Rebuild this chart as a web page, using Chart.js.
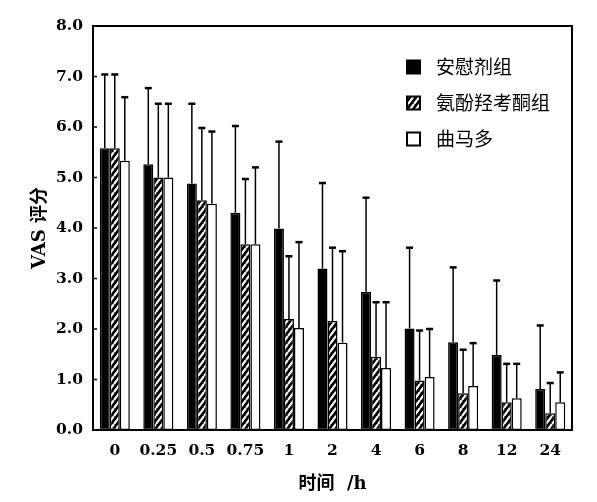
<!DOCTYPE html>
<html>
<head>
<meta charset="utf-8">
<script src="https://cdn.jsdelivr.net/npm/chart.js@4"></script>
<style>
  body { margin: 0; background: #fff; }
  #wrap { width: 597px; height: 502px; }
</style>
</head>
<body>
<div id="wrap"><canvas id="vasChart"></canvas></div>
<script>
// time points (h)
const timeLabels = ['0', '0.25', '0.5', '0.75', '1', '2', '4', '6', '8', '12', '24'];
const groupNames = ['安慰剂组', '氨酚羟考酮组', '曲马多'];

// mean VAS scores
const placeboMean  = [5.58, 5.26, 4.88, 4.30, 3.99, 3.20, 2.74, 2.01, 1.74, 1.49, 0.81];
const oxycodoneMean = [5.58, 5.00, 4.55, 3.68, 2.20, 2.16, 1.45, 0.98, 0.73, 0.55, 0.33];
const tramadolMean = [5.33, 5.00, 4.48, 3.68, 2.02, 1.73, 1.23, 1.05, 0.87, 0.63, 0.55];

// standard deviations (upper error bars only)
const placeboSD   = [1.47, 1.52, 1.59, 1.73, 1.73, 1.70, 1.87, 1.61, 1.49, 1.48, 1.27];
const oxycodoneSD = [1.47, 1.47, 1.44, 1.30, 1.25, 1.46, 1.09, 1.00, 0.87, 0.77, 0.61];
const tramadolSD  = [1.27, 1.47, 1.44, 1.53, 1.71, 1.82, 1.31, 0.96, 0.86, 0.69, 0.60];

const yTicks = [0, 1, 2, 3, 4, 5, 6, 7, 8];

const serif = "'DejaVu Serif', 'Noto Sans CJK SC', serif";

// white diagonal stripes on black for the middle group
function makeHatch() {
    const c = document.createElement('canvas');
    c.width = 6; c.height = 8;
    const g = c.getContext('2d');
    g.fillStyle = '#000';
    g.fillRect(0, 0, 6, 8);
    g.strokeStyle = '#fff';
    g.lineWidth = 2.2;
    g.beginPath();
    g.moveTo(0, 8); g.lineTo(6, 0);
    g.moveTo(-6, 8); g.lineTo(0, 0);
    g.moveTo(6, 8); g.lineTo(12, 0);
    g.stroke();
    return g.createPattern(c, 'repeat');
}
const hatch = makeHatch();

const errorsByDataset = [placeboSD, oxycodoneSD, tramadolSD];

// upward error bars with caps
const errorBars = {
    id: 'errorBars',
    afterDatasetsDraw(chart) {
        const ctx = chart.ctx;
        const y = chart.scales.y;
        ctx.save();
        ctx.strokeStyle = '#000';
        chart.data.datasets.forEach((ds, i) => {
            const meta = chart.getDatasetMeta(i);
            meta.data.forEach((bar, j) => {
                const top = y.getPixelForValue(ds.data[j] + errorsByDataset[i][j]);
                const base = y.getPixelForValue(ds.data[j]);
                ctx.lineWidth = 1.5;
                ctx.beginPath();
                ctx.moveTo(bar.x, base);
                ctx.lineTo(bar.x, top);
                ctx.stroke();
                ctx.lineWidth = 2.5;
                ctx.beginPath();
                ctx.moveTo(bar.x - 3.5, top + 0.5);
                ctx.lineTo(bar.x + 3.5, top + 0.5);
                ctx.stroke();
            });
        });
        ctx.restore();
    }
};

// box around plot area, inward y ticks, legend in upper right
const frameAndLegend = {
    id: 'frameAndLegend',
    afterDraw(chart) {
        const ctx = chart.ctx;
        const a = chart.chartArea;
        const y = chart.scales.y;
        ctx.save();
        ctx.strokeStyle = '#000';
        ctx.lineWidth = 2;
        ctx.strokeRect(a.left, a.top, a.right - a.left, a.bottom - a.top);
        ctx.lineWidth = 1.5;
        yTicks.forEach(v => {
            const py = y.getPixelForValue(v);
            ctx.beginPath();
            ctx.moveTo(a.left, py);
            ctx.lineTo(a.left + 4, py);
            ctx.stroke();
        });

        ctx.font = "19px 'Noto Sans CJK SC'";
        ctx.textBaseline = 'middle';
        chart.data.datasets.forEach((ds, i) => {
            const lx = a.right - 165;
            const ly = a.top + 41 + i * 36;
            ctx.fillStyle = ds.backgroundColor;
            ctx.fillRect(lx, ly - 6.5, 13, 13);
            ctx.lineWidth = 2;
            ctx.strokeRect(lx, ly - 6.5, 13, 13);
            ctx.fillStyle = '#000';
            ctx.fillText(ds.label, lx + 29, ly);
        });
        ctx.restore();
    }
};

const ctx = document.getElementById('vasChart').getContext('2d');
new Chart(ctx, {
    type: 'bar',
    data: {
        labels: timeLabels,
        datasets: [
            { label: groupNames[0], data: placeboMean, backgroundColor: '#000' },
            { label: groupNames[1], data: oxycodoneMean, backgroundColor: hatch },
            { label: groupNames[2], data: tramadolMean, backgroundColor: '#fff' }
        ].map(ds => Object.assign(ds, {
            borderColor: '#000',
            borderWidth: 1.5,
            borderSkipped: false,
            barPercentage: 1,
            categoryPercentage: 0.69
        }))
    },
    options: {
        responsive: true,
        maintainAspectRatio: false,
        animation: false,
        layout: { padding: { top: 26, right: 25, left: 0, bottom: 0 } },
        plugins: {
            legend: { display: false },
            tooltip: { enabled: false }
        },
        scales: {
            x: {
                grid: { display: false, drawTicks: false },
                border: { display: false },
                ticks: {
                    color: '#000',
                    padding: 12,
                    autoSkip: false,
                    maxRotation: 0,
                    font: { family: serif, size: 15.5, weight: 'bold' }
                },
                title: {
                    display: true,
                    text: '时间  /h',
                    color: '#000',
                    padding: { top: 0, bottom: 7 },
                    font: { family: serif, size: 18, weight: 'bold' }
                },
                afterFit: s => { s.height = 72; }
            },
            y: {
                min: 0,
                max: 8,
                grid: { display: false, drawTicks: false },
                border: { display: false },
                ticks: {
                    stepSize: 1,
                    color: '#000',
                    padding: 10,
                    callback: v => v.toFixed(1),
                    font: { family: serif, size: 15.5, weight: 'bold' }
                },
                title: {
                    display: true,
                    text: 'VAS 评分',
                    color: '#000',
                    padding: { top: 30, bottom: 0 },
                    font: { family: serif, size: 18, weight: 'bold' }
                },
                afterFit: s => { s.width = 93; }
            }
        }
    },
    plugins: [errorBars, frameAndLegend]
});
</script>
</body>
</html>
